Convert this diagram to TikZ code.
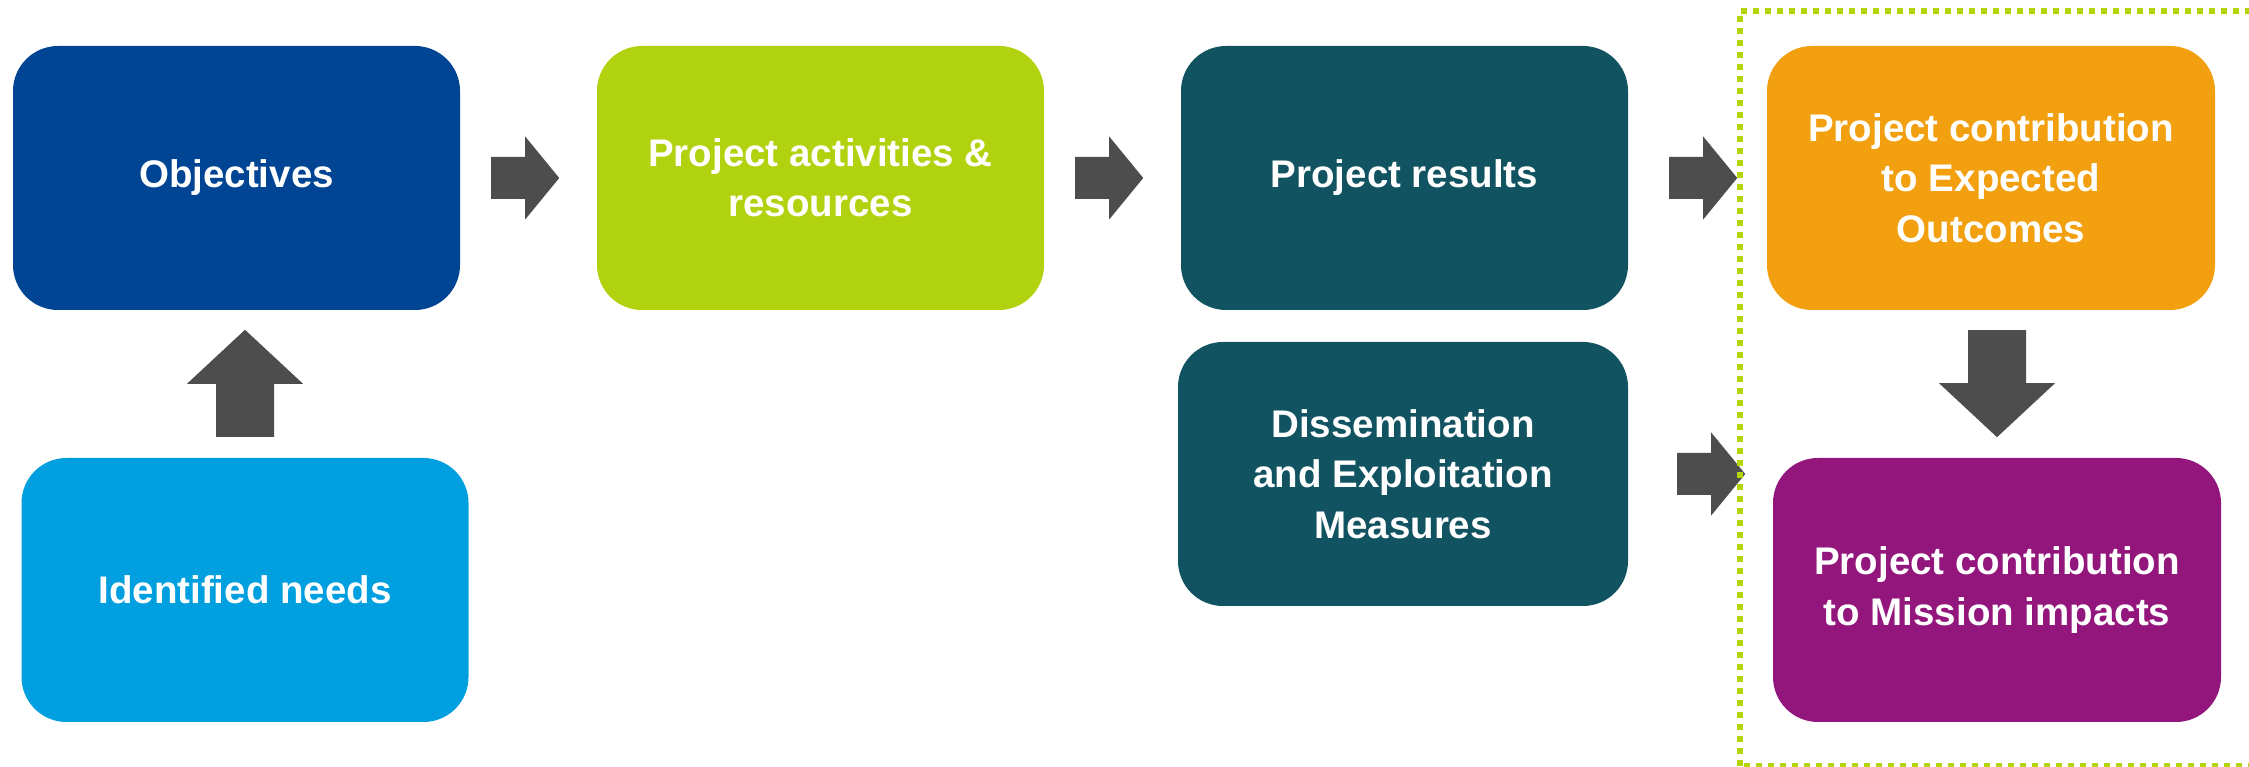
\documentclass[tikz,border=0pt]{standalone}
\usepackage{fontspec}
\setmainfont{Liberation Sans}
\usetikzlibrary{shapes,arrows}
\definecolor{objblue}{HTML}{004494}
\definecolor{needblue}{HTML}{009FE0}
\definecolor{actgreen}{HTML}{B1D20E}
\definecolor{resteal}{HTML}{125362}
\definecolor{exporange}{HTML}{F29F10}
\definecolor{mispurple}{HTML}{93167C}
\definecolor{arrowgrey}{HTML}{4D4D4D}
\definecolor{framegreen}{HTML}{B5D40A}

\begin{document}
\begin{tikzpicture}[x=1pt, y=1pt,
	box/.style={rounded corners=45pt, minimum width=447pt, minimum height=264pt, inner sep=0pt, align=center, text=white, font=\fontsize{38.5}{50.5}\selectfont\bfseries},
	harrow/.pic={\fill[arrowgrey] (0,21) -- (34,21) -- (34,41.5) -- (68,0) -- (34,-41.5) -- (34,-21) -- (0,-21) -- cycle;},
	varrow/.pic={\fill[arrowgrey] (-29,0) -- (29,0) -- (29,-53) -- (58,-53) -- (0,-107) -- (-58,-53) -- (-29,-53) -- cycle;}]
				\clip (0,0) rectangle (2249,767);
				\fill[white] (0,0) rectangle (2249,767);
				\node[box, fill=objblue] (obj) at (236.5,589) {Objectives};
				\node[box, fill=needblue] (need) at (245,177) {Identified needs};
				\node[box, fill=actgreen] (act) at (820.5,589) {Project activities \&\\resources};
				\node[box, fill=resteal] (res) at (1404.5,589) {Project results};
				\node[box, fill=resteal, minimum width=450pt] (dis) at (1403,293) {Dissemination\\and Exploitation\\Measures};
				\node[box, fill=exporange, minimum width=448pt] (exp) at (1991,589) {Project contribution\\to Expected\\Outcomes};
				\node[box, fill=mispurple, minimum width=448pt] (mis) at (1997,177) {Project contribution\\to Mission impacts};
				\pic at ([xshift=31]obj.east) {harrow};
				\pic at ([xshift=31]act.east) {harrow};
				\pic at ([xshift=41]res.east) {harrow};
				\pic at ([xshift=49]dis.east) {harrow};
				\pic[rotate=180] at ([yshift=21]need.north) {varrow};
				\pic at ([xshift=6, yshift=-20]exp.south) {varrow};
				\draw[line width=6pt, dash pattern=on 6pt off 6pt, framegreen] (1740,1) rectangle (2262,756);
			\end{tikzpicture}
\end{document}
